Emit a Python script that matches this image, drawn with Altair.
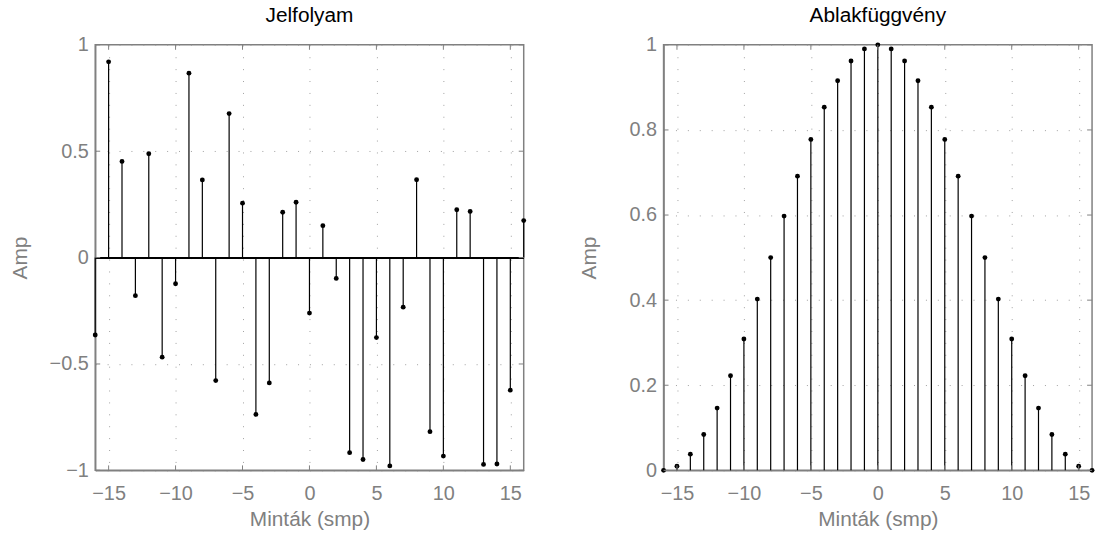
import altair as alt
import pandas as pd

n = list(range(-16, 17))
signal = [-0.364, 0.92, 0.452, -0.179, 0.488, -0.468, -0.123, 0.867, 0.365,
          -0.578, 0.677, 0.256, -0.737, -0.589, 0.213, 0.26, -0.261, 0.15,
          -0.098, -0.917, -0.949, -0.376, -0.979, -0.233, 0.366, -0.818,
          -0.933, 0.225, 0.217, -0.972, -0.97, -0.623, 0.174]
window = [0.0, 0.0096, 0.0381, 0.0843, 0.1464, 0.2222, 0.3087, 0.4025, 0.5,
          0.5975, 0.6913, 0.7778, 0.8536, 0.9157, 0.9619, 0.9904, 1.0,
          0.9904, 0.9619, 0.9157, 0.8536, 0.7778, 0.6913, 0.5975, 0.5,
          0.4025, 0.3087, 0.2222, 0.1464, 0.0843, 0.0381, 0.0096, 0.0]
x_ticks = [-15, -10, -5, 0, 5, 10, 15]
sig_y_ticks = [-1, -0.5, 0, 0.5, 1]
win_y_ticks = [0, 0.2, 0.4, 0.6, 0.8, 1]

GRAY = "#808080"
FONT = "Liberation Sans"
W, H = 432, 429


def panel(values, title, ydomain, yticks, baseline):
    df = pd.DataFrame({"n": n, "v": values})
    xs = alt.Scale(domain=[-16, 16], nice=False, zero=False)
    ys = alt.Scale(domain=ydomain, nice=False, zero=False)
    xax = alt.Axis(values=x_ticks, title="Minták (smp)", grid=True, format="~g")
    yax = alt.Axis(values=yticks, title="Amp", grid=True, format="~g",
                   titleX=-75, titleY=H / 2, titleBaseline="middle",
                   titleAlign="center", titleAngle=270)
    base = alt.Chart(df)
    stems = base.mark_rule(color="black", strokeWidth=1.2).encode(
        x=alt.X("n:Q", scale=xs, axis=xax),
        y=alt.Y("v:Q", scale=ys, axis=yax),
        y2=alt.datum(0),
    )
    dots = base.mark_circle(size=24, color="black", opacity=1).encode(
        x="n:Q", y="v:Q"
    )
    layers = [stems, dots]
    if baseline:
        layers.append(
            alt.Chart(df).mark_rule(color="black", strokeWidth=1.2).encode(
                y=alt.datum(0)
            )
        )
    xt = pd.DataFrame({"n": x_ticks})
    yt = pd.DataFrame({"v": yticks})
    tc = dict(color=GRAY, strokeWidth=1)
    layers += [
        alt.Chart(xt).mark_rule(**tc).encode(x="n:Q", y=alt.value(H), y2=alt.value(H - 5)),
        alt.Chart(xt).mark_rule(**tc).encode(x="n:Q", y=alt.value(0), y2=alt.value(5)),
        alt.Chart(yt).mark_rule(**tc).encode(y="v:Q", x=alt.value(0), x2=alt.value(5)),
        alt.Chart(yt).mark_rule(**tc).encode(y="v:Q", x=alt.value(W), x2=alt.value(W - 5)),
    ]
    return alt.layer(*layers).properties(
        width=W, height=H,
        title=alt.TitleParams(title, fontSize=21, fontWeight="normal",
                              color="black", font=FONT, frame="group",
                              anchor="middle", offset=9),
    )


left = panel(signal, "Jelfolyam", [-1, 1], sig_y_ticks, True)
right = panel(window, "Ablakfüggvény", [0, 1], win_y_ticks, False)

chart = alt.hconcat(left, right, spacing=50).properties(
    padding={"left": 9, "top": 2, "right": 3, "bottom": 5}
).configure_view(
    stroke=GRAY, strokeWidth=1.5
).configure_axis(
    labelFont=FONT, titleFont=FONT, labelFontSize=20, titleFontSize=21,
    labelColor=GRAY, titleColor=GRAY, titleFontWeight="normal",
    domainColor=GRAY, domainWidth=1.5, ticks=False, tickSize=0,
    gridColor="#a0a0a0", gridDash=[1, 11], gridWidth=1,
    labelFlush=False, labelOverlap=False,
).configure_axisY(
    labelPadding=7,
).configure_axisX(
    labelPadding=13, titlePadding=6,
)

chart.save("out.html", embed_options={"renderer": "svg", "actions": False})
